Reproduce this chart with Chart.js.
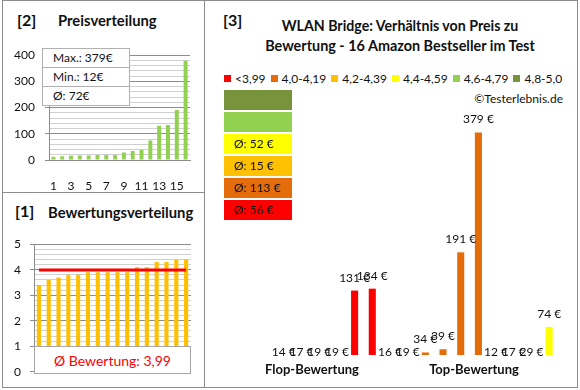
<!DOCTYPE html>
<html>
<head>
<meta charset="utf-8">
<script src="https://cdn.jsdelivr.net/npm/chart.js@4.4.0/dist/chart.umd.min.js"></script>
<style>
  body { margin: 0; background: #fff; font-family: Lato, "Open Sans", sans-serif; color: #111; }
  #wrap { position: relative; width: 580px; height: 390px; overflow: hidden; }
  .abs { position: absolute; }
  .line { position: absolute; background: #8c8c8c; }
  .t { position: absolute; white-space: nowrap; line-height: 20px; height: 20px; }
  .b { font-weight: bold; }
  canvas { position: absolute; }
  #statBox { left: 42px; top: 48px; width: 88px; background: #fff; border: 1px solid #b0b0b0; box-sizing: border-box; }
  #statBox div { height: 18px; line-height: 18px; font-size: 12px; padding-left: 10px; border-bottom: 1px solid #b0b0b0; }
  #statBox div:last-child { border-bottom: none; }
  #avgBox { left: 34px; top: 346px; width: 157px; height: 28px; line-height: 27px; background: #fff; border: 1px solid #a6a6a6; box-sizing: border-box; color: #f00; font-size: 14px; text-align: center; }
  #legend { left: 224px; top: 68px; height: 20px; display: flex; align-items: center; font-size: 12px; }
  #legend span.sq { display: inline-block; width: 7px; height: 7px; margin-right: 4px; }
  #legend span.it { margin-right: 5px; }
  #classBoxes { left: 224px; top: 90px; width: 68px; }
  #classBoxes div { height: 20px; line-height: 20px; margin-bottom: 2px; font-size: 12px; padding-left: 10px; }
</style>
</head>
<body>
<div id="wrap">
  <!-- frames -->
  <div class="line" style="left:2px;top:0;width:576px;height:1px"></div>
  <div class="line" style="left:2px;top:387px;width:576px;height:1px"></div>
  <div class="line" style="left:2px;top:0;width:1px;height:388px"></div>
  <div class="line" style="left:577px;top:0;width:1px;height:388px"></div>
  <div class="line" style="left:204px;top:0;width:1px;height:388px"></div>
  <div class="line" style="left:2px;top:192px;width:202px;height:1px"></div>

  <!-- panel 2 -->
  <div class="t b" style="left:17px;top:10px;font-size:16px">[2]</div>
  <div class="t b" style="left:58px;top:10px;font-size:14.8px">Preisverteilung</div>
  <canvas id="c2" width="204" height="154" style="left:0;top:38px"></canvas>
  <div id="statBox" class="abs"></div>

  <!-- panel 1 -->
  <div class="t b" style="left:15px;top:201px;font-size:16px">[1]</div>
  <div class="t b" style="left:48px;top:202px;font-size:14.8px">Bewertungsverteilung</div>
  <canvas id="c1" width="204" height="160" style="left:0;top:228px"></canvas>
  <div id="avgBox" class="abs"></div>

  <!-- panel 3 -->
  <div class="t b" style="left:223px;top:10px;font-size:16px">[3]</div>
  <div class="t b" style="left:230px;top:16px;width:340px;text-align:center;font-size:14.2px">WLAN Bridge: Verhältnis von Preis zu</div>
  <div class="t b" style="left:230px;top:36px;width:340px;text-align:center;font-size:14.4px">Bewertung - 16 Amazon Bestseller im Test</div>
  <div id="legend" class="abs"></div>
  <div class="t" style="left:463px;top:89px;width:100px;text-align:right;font-size:12px">©Testerlebnis.de</div>
  <canvas id="c3" width="371" height="287" style="left:206px;top:100px"></canvas>
  <div id="classBoxes" class="abs"></div>
  <div class="t b" style="left:232px;top:359px;width:160px;text-align:center;font-size:13px">Flop-Bewertung</div>
  <div class="t b" style="left:394px;top:359px;width:160px;text-align:center;font-size:13px">Top-Bewertung</div>
</div>

<script>
// rank 1..16 (sorted distributions)
var rankLabels = ['1', '2', '3', '4', '5', '6', '7', '8', '9', '10', '11', '12', '13', '14', '15', '16'];
var sortedPrices = [12, 14, 16, 17, 17, 19, 19, 19, 29, 34, 39, 74, 131, 134, 191, 379];
var sortedRatings = [3.4, 3.6, 3.7, 3.8, 3.8, 3.9, 3.9, 3.9, 3.9, 3.9, 4.1, 4.1, 4.3, 4.3, 4.4, 4.4];
var avgRating = 3.99;

// products from flop to top rating, price and rating class
var flopTopPrices = [14, 17, 19, 19, 131, 134, 16, 19, 34, 39, 191, 379, 12, 17, 29, 74];
var flopTopClass = [0, 0, 0, 0, 0, 0, 1, 1, 1, 1, 1, 1, 2, 2, 3, 3];
var classLabels = ['<3,99', '4,0-4,19', '4,2-4,39', '4,4-4,59', '4,6-4,79', '4,8-5,0'];
var classColors = ['#FF0000', '#E46C0A', '#FFC000', '#FFFF00', '#92D050', '#77933C'];

Chart.defaults.font.family = 'Lato, "Open Sans", sans-serif';
Chart.defaults.font.size = 12;
Chart.defaults.color = '#111';

var majorGrid = '#8c8c8c';
var minorGrid = '#d0d0d0';

// stat box (panel 2)
var maxP = Math.max.apply(null, sortedPrices);
var minP = Math.min.apply(null, sortedPrices);
var avgP = Math.round(sortedPrices.reduce((a, b) => a + b, 0) / sortedPrices.length);
document.getElementById('statBox').innerHTML =
  '<div>Max.: ' + maxP + '€</div><div>Min.: ' + minP + '€</div><div>Ø: ' + avgP + '€</div>';

// average rating box (panel 1)
document.getElementById('avgBox').textContent = 'Ø Bewertung: ' + avgRating.toFixed(2).replace('.', ',');

// legend + class average boxes (panel 3)
var legendHtml = '';
for (let c = 0; c < classLabels.length; c++) {
  legendHtml += '<span class="sq" style="background:' + classColors[c] + '"></span><span class="it">' + classLabels[c] + '</span>';
}
document.getElementById('legend').innerHTML = legendHtml;

var boxHtml = '';
for (let c = classLabels.length - 1; c >= 0; c--) {
  let prices = flopTopPrices.filter((p, i) => flopTopClass[i] === c);
  let txt = prices.length ? 'Ø: ' + Math.round(prices.reduce((a, b) => a + b, 0) / prices.length) + ' €' : '';
  boxHtml += '<div style="background:' + classColors[c] + '">' + txt + '</div>';
}
document.getElementById('classBoxes').innerHTML = boxHtml;

// panel 2 - price distribution
new Chart(document.getElementById('c2'), {
  type: 'bar',
  data: {
    labels: rankLabels,
    datasets: [{ data: sortedPrices, backgroundColor: '#92D050', barPercentage: 0.45, categoryPercentage: 1 }]
  },
  options: {
    responsive: false, animation: false, devicePixelRatio: 1,
    layout: { padding: { top: 10, right: 14, left: 0, bottom: 0 } },
    plugins: { legend: { display: false }, tooltip: { enabled: false } },
    scales: {
      x: {
        grid: { display: false },
        border: { color: majorGrid },
        ticks: { padding: 11, autoSkip: false, maxRotation: 0, callback: (v, i) => i % 2 === 0 ? rankLabels[i] : '' },
        afterFit: s => { s.height = 32; }
      },
      y: {
        min: 0, max: 400,
        ticks: { stepSize: 20, autoSkip: false, padding: 10, callback: v => v % 100 === 0 ? v : '' },
        grid: {
          color: ctx => ctx.tick.value % 100 === 0 ? majorGrid : minorGrid,
          tickColor: ctx => ctx.tick.value % 100 === 0 ? majorGrid : 'rgba(0,0,0,0)',
          tickLength: 4
        },
        border: { color: majorGrid },
        afterFit: s => { s.width = 49; }
      }
    }
  }
});

// panel 1 - rating distribution
new Chart(document.getElementById('c1'), {
  type: 'bar',
  data: {
    labels: rankLabels,
    datasets: [
      { type: 'line', data: sortedRatings.map(() => avgRating), borderColor: '#FF0000', borderWidth: 3, pointRadius: 0, order: 0 },
      { data: sortedRatings, backgroundColor: '#FFC000', barPercentage: 0.42, categoryPercentage: 1, order: 1 }
    ]
  },
  options: {
    responsive: false, animation: false, devicePixelRatio: 1,
    layout: { padding: { top: 10, right: 13, left: 0, bottom: 14 } },
    plugins: { legend: { display: false }, tooltip: { enabled: false } },
    scales: {
      x: { display: false },
      y: {
        min: 0, max: 5,
        ticks: { stepSize: 0.2, autoSkip: false, padding: 9, callback: v => Number.isInteger(v) ? v : '' },
        grid: {
          color: ctx => Number.isInteger(ctx.tick.value) ? majorGrid : minorGrid,
          tickColor: ctx => Number.isInteger(ctx.tick.value) ? majorGrid : 'rgba(0,0,0,0)',
          tickLength: 4
        },
        border: { color: majorGrid },
        afterFit: s => { s.width = 34; }
      }
    }
  }
});

// price labels above the bars in panel 3
var priceLabels = {
  id: 'priceLabels',
  afterDatasetsDraw(chart) {
    const ctx = chart.ctx;
    const area = chart.chartArea;
    const yMin = chart.scales.y.min;
    ctx.save();
    ctx.font = '12px Lato, "Open Sans", sans-serif';
    ctx.fillStyle = '#111';
    ctx.textAlign = 'center';
    ctx.textBaseline = 'alphabetic';
    chart.getDatasetMeta(0).data.forEach((bar, i) => {
      const v = flopTopPrices[i];
      const y = v < yMin ? area.bottom + 1 : bar.y - 9;
      ctx.fillText(v + ' €', bar.x, y);
    });
    ctx.restore();
  }
};

// panel 3 - price vs rating
new Chart(document.getElementById('c3'), {
  type: 'bar',
  data: {
    labels: rankLabels,
    datasets: [{
      data: flopTopPrices,
      backgroundColor: flopTopClass.map(c => classColors[c]),
      barPercentage: 0.4, categoryPercentage: 1
    }]
  },
  options: {
    responsive: false, animation: false, devicePixelRatio: 1,
    layout: { padding: { top: 19, right: 19, left: 69, bottom: 32 } },
    plugins: { legend: { display: false }, tooltip: { enabled: false } },
    scales: {
      x: { display: false },
      y: { display: false, min: 30, max: 400 }
    }
  },
  plugins: [priceLabels]
});
</script>
</body>
</html>
